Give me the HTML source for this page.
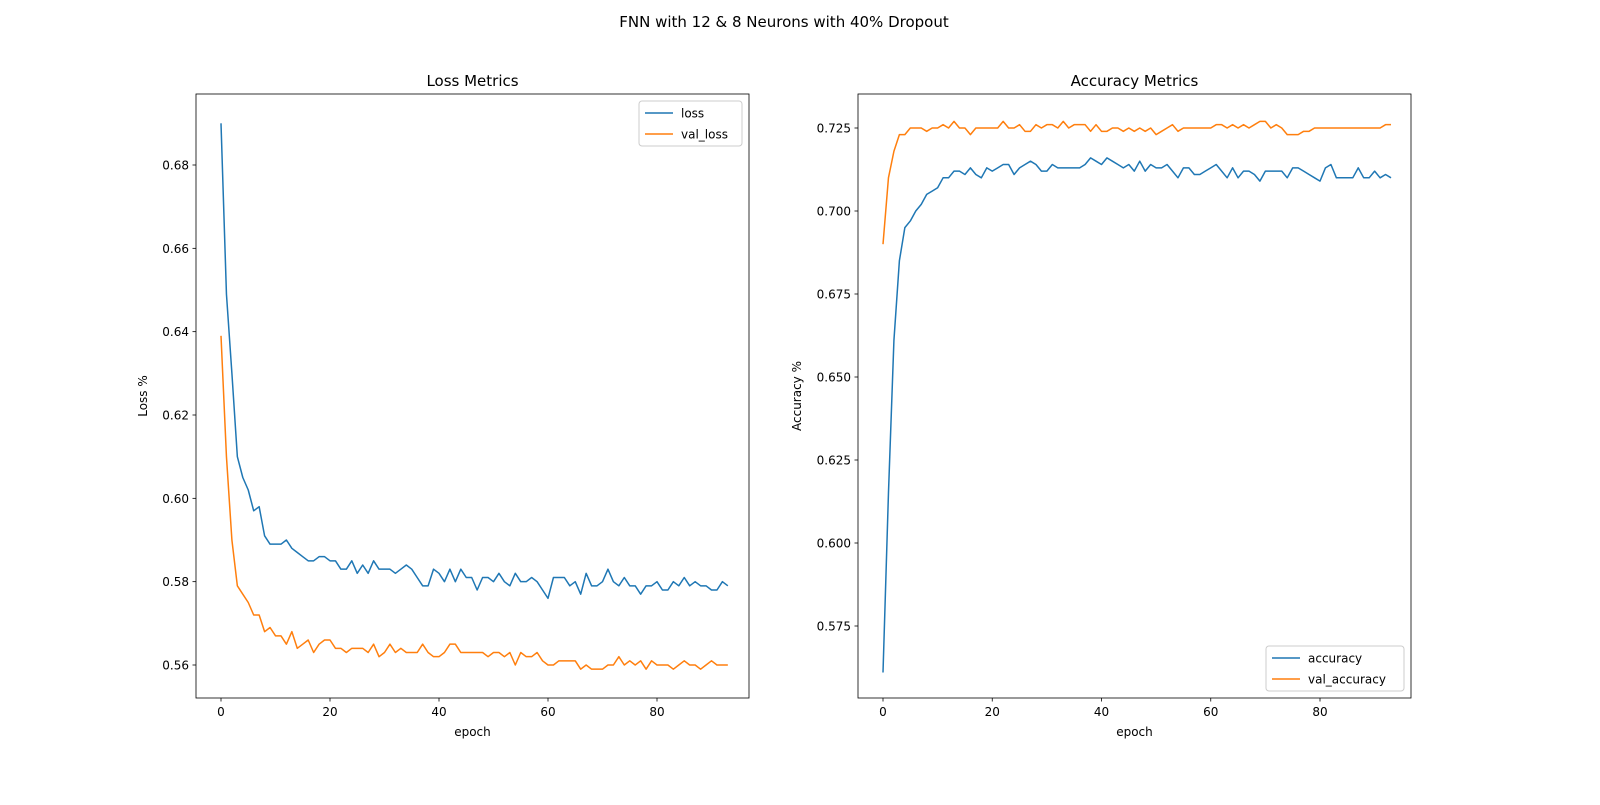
<!DOCTYPE html>
<html><head><meta charset="utf-8"><style>
body{margin:0;background:#fff;font-family:"Liberation Sans","DejaVu Sans",sans-serif}
svg text{font-family:"DejaVu Sans","Liberation Sans",sans-serif;fill:#000}
</style></head><body>
<svg id="fig" width="1600" height="800" xmlns="http://www.w3.org/2000/svg">
<rect width="1600" height="800" fill="#fff"/>
<text x="784" y="27" font-size="15" text-anchor="middle">FNN with 12 &amp; 8 Neurons with 40% Dropout</text>
</svg>
<script>
const epochs = Array.from({length:94},(_,i)=>i);
const loss=[0.690,0.649,0.630,0.610,0.605,0.602,0.597,0.598,0.591,0.589,0.589,0.589,0.590,0.588,0.587,0.586,0.585,0.585,0.586,0.586,0.585,0.585,0.583,0.583,0.585,0.582,0.584,0.582,0.585,0.583,0.583,0.583,0.582,0.583,0.584,0.583,0.581,0.579,0.579,0.583,0.582,0.580,0.583,0.580,0.583,0.581,0.581,0.578,0.581,0.581,0.580,0.582,0.580,0.579,0.582,0.580,0.580,0.581,0.580,0.578,0.576,0.581,0.581,0.581,0.579,0.580,0.577,0.582,0.579,0.579,0.580,0.583,0.580,0.579,0.581,0.579,0.579,0.577,0.579,0.579,0.580,0.578,0.578,0.580,0.579,0.581,0.579,0.580,0.579,0.579,0.578,0.578,0.580,0.579];
const valLoss=[0.639,0.610,0.590,0.579,0.577,0.575,0.572,0.572,0.568,0.569,0.567,0.567,0.565,0.568,0.564,0.565,0.566,0.563,0.565,0.566,0.566,0.564,0.564,0.563,0.564,0.564,0.564,0.563,0.565,0.562,0.563,0.565,0.563,0.564,0.563,0.563,0.563,0.565,0.563,0.562,0.562,0.563,0.565,0.565,0.563,0.563,0.563,0.563,0.563,0.562,0.563,0.563,0.562,0.563,0.560,0.563,0.562,0.562,0.563,0.561,0.560,0.560,0.561,0.561,0.561,0.561,0.559,0.560,0.559,0.559,0.559,0.560,0.560,0.562,0.560,0.561,0.560,0.561,0.559,0.561,0.560,0.560,0.560,0.559,0.560,0.561,0.560,0.560,0.559,0.560,0.561,0.560,0.560,0.560];
const acc=[0.561,0.615,0.661,0.685,0.695,0.697,0.700,0.702,0.705,0.706,0.707,0.710,0.710,0.712,0.712,0.711,0.713,0.711,0.710,0.713,0.712,0.713,0.714,0.714,0.711,0.713,0.714,0.715,0.714,0.712,0.712,0.714,0.713,0.713,0.713,0.713,0.713,0.714,0.716,0.715,0.714,0.716,0.715,0.714,0.713,0.714,0.712,0.715,0.712,0.714,0.713,0.713,0.714,0.712,0.710,0.713,0.713,0.711,0.711,0.712,0.713,0.714,0.712,0.710,0.713,0.710,0.712,0.712,0.711,0.709,0.712,0.712,0.712,0.712,0.710,0.713,0.713,0.712,0.711,0.710,0.709,0.713,0.714,0.710,0.710,0.710,0.710,0.713,0.710,0.710,0.712,0.710,0.711,0.710];
const valAcc=[0.690,0.710,0.718,0.723,0.723,0.725,0.725,0.725,0.724,0.725,0.725,0.726,0.725,0.727,0.725,0.725,0.723,0.725,0.725,0.725,0.725,0.725,0.727,0.725,0.725,0.726,0.724,0.724,0.726,0.725,0.726,0.726,0.725,0.727,0.725,0.726,0.726,0.726,0.724,0.726,0.724,0.724,0.725,0.725,0.724,0.725,0.724,0.725,0.724,0.725,0.723,0.724,0.725,0.726,0.724,0.725,0.725,0.725,0.725,0.725,0.725,0.726,0.726,0.725,0.726,0.725,0.726,0.725,0.726,0.727,0.727,0.725,0.726,0.725,0.723,0.723,0.723,0.724,0.724,0.725,0.725,0.725,0.725,0.725,0.725,0.725,0.725,0.725,0.725,0.725,0.725,0.725,0.726,0.726];
const xTicks=[0,20,40,60,80];
const lossTicks=[0.56,0.58,0.60,0.62,0.64,0.66,0.68];
const accTicks=[0.575,0.600,0.625,0.650,0.675,0.700,0.725];

const NS="http://www.w3.org/2000/svg";
const svg=document.getElementById('fig');
function mk(tag,attrs,parent){const e=document.createElementNS(NS,tag);for(const k in attrs)e.setAttribute(k,attrs[k]);(parent||svg).appendChild(e);return e;}

function panel(cfg){
  const g=mk('g',{});
  
  
  const {L,R,T,B}=cfg;
  const xs=v=>cfg.x0px+(v-0)*cfg.xk;
  const ys=v=>cfg.y0px-(v-cfg.y0)*cfg.yk;
  // series
  cfg.series.forEach(s=>{
    const d=s.data.map((v,i)=>(i?'L':'M')+xs(epochs[i]).toFixed(2)+','+ys(v).toFixed(2)).join('');
    const p=mk('path',{d:d,fill:'none',stroke:s.color,'stroke-width':1.5,'stroke-linejoin':'round'},g);
    
    
  });
  const fr=mk('rect',{x:L,y:T,width:R-L,height:B-T,fill:'none',stroke:'#000','stroke-width':0.8},g);
  
  
  xTicks.forEach(t=>{
    const x=xs(t);
    mk('line',{x1:x,x2:x,y1:B,y2:B+3.5,stroke:'#000','stroke-width':0.8},g);
    const tx=mk('text',{x:x,y:B+18,'font-size':12,'text-anchor':'middle'},g);
    tx.textContent=t;
    
    
  });
  cfg.yTicks.forEach(t=>{
    const y=ys(t);
    mk('line',{x1:L-3.5,x2:L,y1:y,y2:y,stroke:'#000','stroke-width':0.8},g);
    const tx=mk('text',{x:L-7,y:y+4.5,'font-size':12,'text-anchor':'end'},g);
    tx.textContent=t.toFixed(cfg.dec);
    
    
  });
  const title=mk('text',{x:(L+R)/2,y:T-8,'font-size':15,'text-anchor':'middle'},g);
  title.textContent=cfg.title;
  
  
  const xl=mk('text',{x:(L+R)/2,y:B+38,'font-size':12,'text-anchor':'middle'},g);
  xl.textContent='epoch';
  
  
  const yl=mk('text',{x:0,y:0,'font-size':12,'text-anchor':'middle',transform:`translate(${cfg.ylx},${(T+B)/2}) rotate(-90)`},g);
  yl.textContent=cfg.ylabel;
  
  
  // legend
  const lg=mk('g',{},g);
  
  
  mk('rect',{x:cfg.lgx,y:cfg.lgy,width:cfg.lgw,height:45,rx:3,fill:'#fff','fill-opacity':0.8,stroke:'#ccc','stroke-width':1},lg);
  cfg.series.forEach((s,i)=>{
    const y=cfg.lgy+12+i*21;
    mk('line',{x1:cfg.lgx+6,x2:cfg.lgx+34,y1:y,y2:y,stroke:s.color,'stroke-width':1.5},lg);
    const t=mk('text',{x:cfg.lgx+42,y:y+4.5,'font-size':12},lg);
    t.textContent=s.key;
    
    
  });
}
panel({name:'loss-chart',L:196,R:749,T:94,B:698,x0px:221,xk:5.45,y0:0.56,y0px:665,yk:500/0.12,
  yTicks:lossTicks,dec:2,title:'Loss Metrics',ylabel:'Loss %',ylx:147,lgx:639,lgy:101,lgw:103,
  series:[{key:'loss',data:loss,color:'#1f77b4'},{key:'val_loss',data:valLoss,color:'#ff7f0e'}]});
panel({name:'accuracy-chart',L:858,R:1411,T:94,B:698,x0px:883,xk:5.4625,y0:0.575,y0px:626,yk:498/0.15,
  yTicks:accTicks,dec:3,title:'Accuracy Metrics',ylabel:'Accuracy %',ylx:801,lgx:1266,lgy:646,lgw:138,
  series:[{key:'accuracy',data:acc,color:'#1f77b4'},{key:'val_accuracy',data:valAcc,color:'#ff7f0e'}]});
</script>
</body></html>
